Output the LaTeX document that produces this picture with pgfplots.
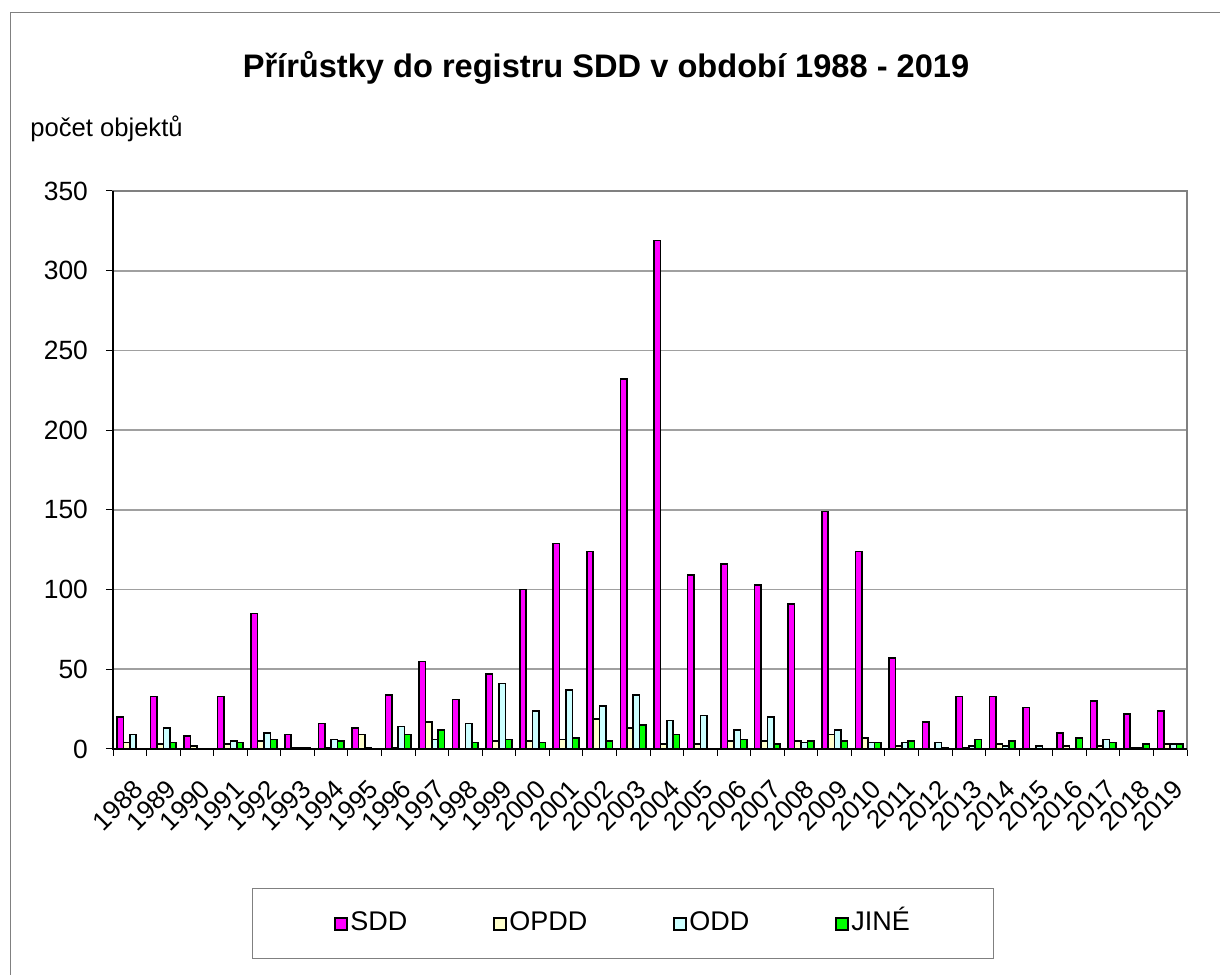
\documentclass[border=0pt]{standalone}
\usepackage{pgfplots}
\usepackage{pgfplotstable}
\pgfplotsset{compat=1.18}
\usepackage{fontspec}
\setmainfont{Liberation Sans}

\definecolor{sdd}{RGB}{255,0,255}
\definecolor{opdd}{RGB}{255,255,204}
\definecolor{odd}{RGB}{204,255,255}
\definecolor{jine}{RGB}{0,255,0}
\definecolor{gridgray}{RGB}{160,160,160}
\definecolor{framegray}{RGB}{128,128,128}

% index, year, SDD, OPDD, ODD, JINE
\pgfplotstableread{
x year SDD OPDD ODD JINE
0 1988 20 4 9 0
1 1989 33 3 13 4
2 1990 8 2 0 0
3 1991 33 3 5 4
4 1992 85 5 10 6
5 1993 9 1 1 1
6 1994 16 1 6 5
7 1995 13 9 1 0
8 1996 34 1 14 9
9 1997 55 17 6 12
10 1998 31 0 16 4
11 1999 47 5 41 6
12 2000 100 5 24 4
13 2001 129 6 37 7
14 2002 124 19 27 5
15 2003 232 13 34 15
16 2004 319 3 18 9
17 2005 109 3 21 0
18 2006 116 5 12 6
19 2007 103 5 20 3
20 2008 91 5 4 5
21 2009 149 9 12 5
22 2010 124 7 4 4
23 2011 57 2 4 5
24 2012 17 0 4 1
25 2013 33 1 2 6
26 2014 33 3 2 5
27 2015 26 0 2 0
28 2016 10 2 0 7
29 2017 30 2 6 4
30 2018 22 1 1 3
31 2019 24 3 3 3
}\data

\pgfplotsset{
  sqlegend/.style={legend image code/.code={%
    \draw[##1,line width=1pt,draw=black] (0pt,-3pt) rectangle (6pt,3pt);}},
}

\begin{document}
\begin{tikzpicture}
\useasboundingbox (0,0) rectangle (610pt,487pt);
\draw[framegray,line width=0.5pt] (5pt,-2pt) -- (5pt,480.5pt) -- (612pt,480.5pt);

\node[anchor=base,font=\fontsize{16.3}{19}\selectfont\bfseries]
  at (303pt,448pt) {Přírůstky do registru SDD v období 1988 - 2019};
\node[anchor=base west,font=\fontsize{12.8}{15}\selectfont,inner sep=0pt]
  at (15pt,418.5pt) {počet objektů};

\begin{axis}[
    at={(56.5pt,112.5pt)}, anchor=south west,
    scale only axis,
    width=537pt, height=279pt,
    ybar=0pt, bar width=3.2pt,
    xmin=-0.5, xmax=31.5,
    ymin=0, ymax=350, ytick={0,50,...,350},
    enlargelimits=false,
    xtick={0,...,31},
    xticklabels from table={\data}{year},
    minor xtick={-0.5,0.5,...,31.5},
    major x tick style={draw=none},
    minor tick length=3.5pt,
    major tick length=3.5pt,
    tick align=outside,
    xtick pos=bottom, ytick pos=left,
    tick style={black,line width=0.5pt},
    ymajorgrids,
    major grid style={gridgray,line width=0.9pt},
    axis line style={framegray,line width=0.9pt},
    /pgf/number format/assume math mode=true,
    yticklabel style={font=\fontsize{13.2}{15}\selectfont,xshift=-5.5pt},
    xticklabel style={font=\fontsize{13}{15}\selectfont,rotate=45,anchor=north east,
      inner sep=1pt,xshift=-6pt,yshift=-7.4pt},
    legend columns=4,
    legend style={
      at={(0.475,-0.3136)}, anchor=center,
      draw=framegray, line width=0.5pt,
      inner xsep=41pt, inner ysep=10pt,
      font=\fontsize{13.5}{16}\selectfont,
      nodes={inner sep=1pt,text height=10pt,text depth=3pt},
      cells={anchor=west},
      /tikz/every even column/.append style={column sep=42pt},
    },
    clip=false,
  ]
  \addplot[fill=sdd,draw=black,line width=0.8pt,sqlegend] table[x=x,y=SDD] {\data};
  \addplot[fill=opdd,draw=black,line width=0.8pt,sqlegend] table[x=x,y=OPDD] {\data};
  \addplot[fill=odd,draw=black,line width=0.8pt,sqlegend] table[x=x,y=ODD] {\data};
  \addplot[fill=jine,draw=black,line width=0.8pt,sqlegend] table[x=x,y=JINE] {\data};
  \legend{SDD,OPDD,ODD,JINÉ}
  \draw[black,line width=0.9pt] (rel axis cs:0,1) -- (rel axis cs:0,0) -- (rel axis cs:1,0);
\end{axis}
\end{tikzpicture}
\end{document}
